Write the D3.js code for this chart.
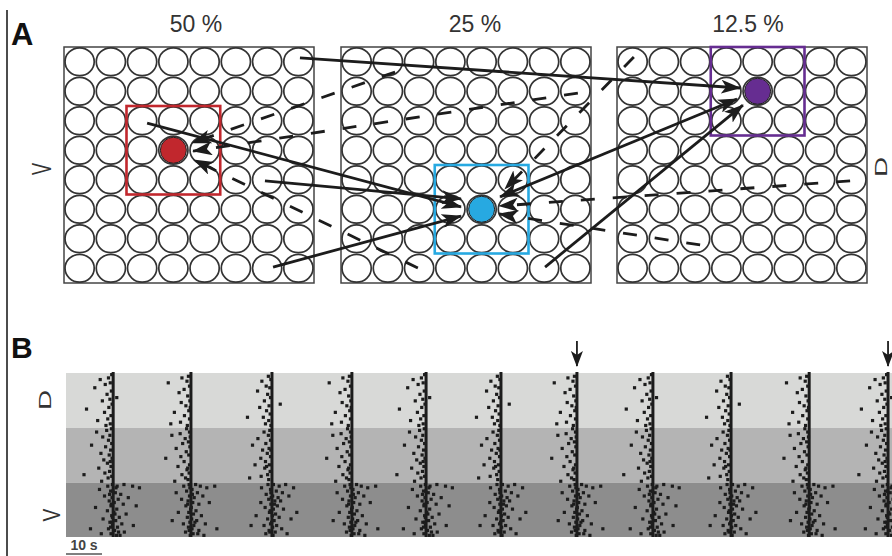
<!DOCTYPE html>
<html>
<head>
<meta charset="utf-8">
<script src="https://cdn.jsdelivr.net/npm/d3@7"></script>
<style>
  body { margin: 0; background: #fff; }
  text { font-family: "Liberation Sans", Arial, sans-serif; }
</style>
</head>
<body>
<script>
// ---- Panel A data ----
const gridTitles = ["50 %", "25 %", "12.5 %"];
const nCells = 8;
// highlighted cell (col,row) per grid and its colour
const hotCells = [[3, 3], [4, 5], [4, 1]];
const hotColors = ["#c1272d", "#27a9e1", "#662d91"];
// arrows: [fromGrid, col, row, toGrid, col, row] in cell units
const solidArrows = [
  [0, 7.55, 0.37, 2, 3.94, 1.39],
  [1, 5.09, 5.08, 2, 3.84, 1.76],
  [1, 6.53, 7.46, 2, 4.03, 1.97],
  [0, 2.66, 2.58, 1, 3.84, 5.42],
  [0, 6.43, 4.54, 1, 3.84, 5.15],
  [0, 6.69, 7.46, 1, 3.84, 5.73]
];
const dashedArrows = [
  [1, 1.73, 0.85, 0, 4.10, 3.25],
  [1, 7.58, 1.56, 0, 4.13, 3.53],
  [1, 2.46, 7.49, 0, 4.16, 3.83],
  [2, 0.54, 0.34, 1, 5.25, 4.81],
  [2, 7.46, 4.54, 1, 5.06, 5.39],
  [2, 2.66, 6.71, 1, 5.06, 5.66]
];

// ---- Panel B data ----
const eventTimes = [13.1, 34.7, 57.2, 79.4, 100.0, 120.8, 141.9, 163.0, 184.7, 206.4, 228.3];
const markedEvents = [141.9, 228.3];
const eventTemplate = [0, 1, 2, 1, 0, 2, 1, 0, 2, 1, 0];
const bandEdges = [0, 0.335, 0.67, 1];
const bandColors = ["#d8d9d7", "#b4b4b4", "#8d8d8d"];
// dot offsets: [seconds from event, depth 0 (D) .. 1 (V)]
const dotsT0 = [
  [-0.4,0.01],[-1.3,0.03],[-3.6,0.04],[-0.8,0.06],[-2.2,0.07],[-5.1,0.09],[-0.5,0.11],[-1.7,0.13],[-0.9,0.16],[-3.0,0.17],
  [-0.3,0.19],[-1.2,0.21],[-7.4,0.22],[-2.4,0.24],[-0.6,0.26],[-1.5,0.28],[-4.3,0.29],[-0.8,0.31],[-2.0,0.32],[1.0,0.15],
  [-0.5,0.34],[-1.8,0.35],[-4.6,0.36],[-0.9,0.38],[-2.9,0.39],[-1.3,0.41],[-0.4,0.43],[-6.0,0.44],[-2.1,0.45],[-0.7,0.47],
  [-3.4,0.49],[-1.1,0.50],[-0.3,0.52],[-2.6,0.53],[-1.6,0.55],[-0.6,0.57],[-4.0,0.58],[-1.0,0.60],[-2.3,0.61],[-0.4,0.63],
  [-1.4,0.64],[-3.2,0.66],[-8.1,0.62],[-0.8,0.54],
  [-0.2,0.68],[-1.5,0.69],[1.1,0.69],[3.0,0.68],[5.4,0.69],[7.3,0.70],[-3.8,0.71],[-0.7,0.72],[0.6,0.73],[2.1,0.74],
  [-2.4,0.75],[-0.3,0.76],[1.4,0.77],[4.2,0.76],[-1.1,0.78],[0.3,0.79],[2.8,0.80],[-0.6,0.81],[-4.9,0.82],[1.0,0.83],
  [-1.6,0.84],[0.2,0.85],[3.6,0.86],[-0.4,0.87],[1.7,0.88],[-2.8,0.89],[0.7,0.90],[-0.9,0.91],[2.4,0.92],[-0.2,0.93],
  [5.6,0.93],[1.2,0.94],[-1.3,0.95],[0.4,0.96],[3.1,0.97],[-0.6,0.98],[1.9,0.99],[-3.3,0.98],[0.9,0.99],[-0.1,0.72],
  [-0.5,0.80],[-0.2,0.88],[-0.7,0.94],[0.5,0.86],[6.4,0.81],[-6.3,0.95],[-1.0,0.74],[0.8,0.70],[-0.4,0.91],[1.5,0.97]
];
const dotsT1 = [
  [-0.7,0.02],[-2.5,0.03],[-1.1,0.05],[-6.3,0.06],[-0.4,0.08],[-1.9,0.10],[-3.3,0.12],[-0.9,0.14],[-0.3,0.17],[-2.7,0.18],
  [-1.4,0.20],[-0.6,0.23],[-4.6,0.24],[-1.8,0.26],[-0.4,0.28],[-2.9,0.30],[-1.0,0.32],[-5.6,0.31],[-0.2,0.21],
  [-1.2,0.34],[-0.4,0.36],[-3.0,0.37],[-5.3,0.38],[-1.6,0.40],[-0.7,0.42],[-2.3,0.43],[-0.3,0.45],[-4.1,0.46],[-1.3,0.48],
  [-0.6,0.50],[-2.8,0.51],[-7.0,0.52],[-1.9,0.54],[-0.4,0.56],[-3.6,0.57],[-1.1,0.59],[-0.5,0.61],[-2.5,0.62],[-1.5,0.64],
  [-0.8,0.65],[-4.5,0.66],[-0.2,0.39],[-0.9,0.58],
  [-0.5,0.68],[1.3,0.68],[-2.0,0.69],[2.6,0.69],[4.4,0.70],[6.6,0.69],[0.3,0.71],[-1.2,0.72],[-4.1,0.73],[1.8,0.73],
  [-0.4,0.75],[0.9,0.76],[3.3,0.75],[-2.6,0.77],[-0.8,0.78],[0.5,0.79],[2.2,0.80],[5.1,0.79],[-1.4,0.81],[0.1,0.82],
  [1.4,0.84],[-0.6,0.85],[-3.5,0.85],[0.7,0.86],[2.9,0.87],[-1.0,0.88],[0.2,0.89],[1.6,0.90],[-0.3,0.91],[-2.1,0.92],
  [0.8,0.93],[4.0,0.92],[-0.7,0.94],[0.3,0.95],[2.2,0.96],[-1.5,0.97],[0.6,0.98],[-0.2,0.99],[3.6,0.99],[-5.2,0.90],
  [-0.3,0.70],[-0.1,0.83],[-0.5,0.96],[1.1,0.91],[7.2,0.95],[-0.9,0.80],[0.4,0.74],[1.9,0.98]
];
const dotsT2 = [
  [-1.0,0.02],[-0.3,0.04],[-2.8,0.05],[-1.6,0.08],[-0.6,0.09],[-4.0,0.11],[-1.2,0.13],[-0.4,0.15],[-2.1,0.17],[-0.8,0.20],
  [-3.4,0.21],[-1.5,0.23],[-0.5,0.25],[-2.4,0.27],[-6.8,0.27],[-0.9,0.29],[-1.8,0.31],[-0.3,0.32],[2.3,0.19],
  [-0.6,0.35],[-2.2,0.36],[-1.0,0.38],[-3.9,0.40],[-0.4,0.41],[-1.7,0.43],[-5.4,0.44],[-0.8,0.46],[-2.6,0.47],[-1.3,0.49],
  [-0.4,0.51],[-3.1,0.52],[-1.8,0.54],[-0.7,0.56],[-4.7,0.56],[-2.0,0.58],[-0.5,0.60],[-1.2,0.62],[-3.0,0.63],[-0.9,0.65],
  [-6.2,0.64],[-0.3,0.47],[-1.5,0.57],
  [0.4,0.68],[-1.1,0.68],[2.0,0.69],[3.8,0.68],[6.0,0.70],[-2.9,0.70],[-0.4,0.71],[1.2,0.72],[2.9,0.73],[-1.6,0.74],
  [0.2,0.75],[4.7,0.75],[-0.9,0.77],[0.8,0.78],[2.4,0.78],[-3.1,0.79],[-0.3,0.80],[1.5,0.81],[-1.9,0.82],[0.4,0.83],
  [3.2,0.83],[-0.7,0.85],[1.0,0.86],[-4.4,0.87],[0.1,0.87],[2.0,0.88],[-1.2,0.89],[0.6,0.90],[5.3,0.89],[-0.4,0.92],
  [1.3,0.93],[-2.2,0.93],[0.2,0.94],[2.7,0.95],[-0.8,0.96],[0.9,0.97],[-1.7,0.98],[0.3,0.99],[4.2,0.98],[-0.2,0.76],
  [-0.5,0.84],[-0.1,0.91],[-0.6,0.97],[0.7,0.80],[6.9,0.85],[-5.8,0.93],[1.7,0.76],[-0.3,0.73]
];
const dotTemplates = [dotsT0, dotsT1, dotsT2];

// ---- SVG ----
const W = 892, H = 556;
const svg = d3.select("body").append("svg")
  .attr("width", W)
  .attr("height", H);

const ink = "#1c1c1c";

// arrow head markers (big for panel A, small for panel B)
const defs = svg.append("defs");
defs.append("marker")
  .attr("id", "head")
  .attr("viewBox", "0 0 20 14")
  .attr("refX", 19)
  .attr("refY", 7)
  .attr("markerWidth", 20)
  .attr("markerHeight", 14)
  .attr("markerUnits", "userSpaceOnUse")
  .attr("orient", "auto")
  .append("path")
  .attr("d", "M0,0 L20,7 L0,14 L5,7 Z")
  .attr("fill", ink);
defs.append("marker")
  .attr("id", "headSmall")
  .attr("viewBox", "0 0 16 12")
  .attr("refX", 15)
  .attr("refY", 6)
  .attr("markerWidth", 16)
  .attr("markerHeight", 12)
  .attr("markerUnits", "userSpaceOnUse")
  .attr("orient", "auto")
  .append("path")
  .attr("d", "M0,0 L16,6 L0,12 L4,6 Z")
  .attr("fill", ink);

// left rule
svg.append("line")
  .attr("x1", 7).attr("x2", 7)
  .attr("y1", 10).attr("y2", H)
  .attr("stroke", "#111")
  .attr("stroke-width", 1.5);

// panel letters
svg.append("text").attr("x", 11).attr("y", 45)
  .style("font-size", "31px").style("font-weight", "bold").attr("fill", "#111").text("A");
svg.append("text").attr("x", 11).attr("y", 358)
  .style("font-size", "30px").style("font-weight", "bold").attr("fill", "#111").text("B");

// ---- Panel A ----
const gridLeft = [64, 341, 617];
const gridW = 250, gridTop = 47, gridH = 236;
const gx = gridLeft.map(l => d3.scaleLinear().domain([0, nCells]).range([l, l + gridW]));
const gy = d3.scaleLinear().domain([0, nCells]).range([gridTop, gridTop + gridH]);

const cells = d3.range(nCells * nCells).map(i => ({ col: i % nCells, row: Math.floor(i / nCells) }));
const titleX = [196, 475, 748];

gridTitles.forEach((title, g) => {
  const grid = svg.append("g");

  grid.append("text")
    .attr("x", titleX[g])
    .attr("y", 32)
    .attr("text-anchor", "middle")
    .style("font-size", "23px")
    .attr("fill", "#333")
    .text(title);

  grid.append("rect")
    .attr("x", gx[g](0))
    .attr("y", gy(0))
    .attr("width", gx[g](nCells) - gx[g](0))
    .attr("height", gy(nCells) - gy(0))
    .attr("fill", "none")
    .attr("stroke", "#444")
    .attr("stroke-width", 1.5);

  grid.selectAll("ellipse")
    .data(cells)
    .enter()
    .append("ellipse")
    .attr("cx", d => gx[g](d.col + 0.5))
    .attr("cy", d => gy(d.row + 0.5))
    .attr("rx", 14.6)
    .attr("ry", 13.9)
    .attr("fill", "none")
    .attr("stroke", "#333")
    .attr("stroke-width", 1.7);

  // 3x3 highlight box and the centre cell
  const [c, r] = hotCells[g];
  grid.append("rect")
    .attr("x", gx[g](c - 1))
    .attr("y", gy(r - 1))
    .attr("width", gx[g](c + 2) - gx[g](c - 1))
    .attr("height", gy(r + 2) - gy(r - 1))
    .attr("fill", "none")
    .attr("stroke", hotColors[g])
    .attr("stroke-width", 2.6);

  grid.append("circle")
    .attr("cx", gx[g](c + 0.5))
    .attr("cy", gy(r + 0.5))
    .attr("r", 13)
    .attr("fill", hotColors[g])
    .attr("stroke", "#222")
    .attr("stroke-width", 1);
});

// V / D orientation labels
svg.append("text")
  .attr("transform", "translate(51,169) rotate(-90) scale(0.65,1)")
  .attr("text-anchor", "middle")
  .style("font-size", "28px")
  .attr("fill", "#333")
  .text("V");
svg.append("text")
  .attr("transform", "translate(887,167) rotate(-90) scale(1,0.6)")
  .attr("text-anchor", "middle")
  .style("font-size", "28px")
  .attr("fill", "#333")
  .text("D");

function drawArrows(list, dashed) {
  svg.selectAll(null)
    .data(list)
    .enter()
    .append("line")
    .attr("x1", d => gx[d[0]](d[1]))
    .attr("y1", d => gy(d[2]))
    .attr("x2", d => gx[d[3]](d[4]))
    .attr("y2", d => gy(d[5]))
    .attr("stroke", ink)
    .attr("stroke-width", 2.8)
    .attr("stroke-dasharray", dashed ? "14,18" : null)
    .attr("marker-end", "url(#head)");
}
drawArrows(dashedArrows, true);
drawArrows(solidArrows, false);
// the blue-to-purple arrow also carries a head at its start
svg.append("line")
  .attr("x1", gx[1](5.09) + 14).attr("y1", gy(5.08) - 6)
  .attr("x2", gx[1](5.09)).attr("y2", gy(5.08))
  .attr("stroke", "none")
  .attr("marker-end", "url(#head)");

// ---- Panel B ----
const x = d3.scaleLinear().domain([0, 229.4]).range([66, W]);
const y = d3.scaleLinear().domain([0, 1]).range([373, 537]);

svg.append("clipPath").attr("id", "rasterClip")
  .append("rect")
  .attr("x", x(0)).attr("y", y(0) - 2)
  .attr("width", W - x(0)).attr("height", y(1) - y(0) + 3);

const raster = svg.append("g").attr("clip-path", "url(#rasterClip)");

raster.selectAll("rect.band")
  .data(bandColors)
  .enter()
  .append("rect")
  .attr("class", "band")
  .attr("x", x(0))
  .attr("y", (d, i) => y(bandEdges[i]))
  .attr("width", W - x(0))
  .attr("height", (d, i) => y(bandEdges[i + 1]) - y(bandEdges[i]))
  .attr("fill", d => d);

const dots = [];
eventTimes.forEach((t, i) => {
  dotTemplates[eventTemplate[i]].forEach(p => dots.push({ t: t + p[0], depth: p[1] }));
});

raster.selectAll("rect.dot")
  .data(dots)
  .enter()
  .append("rect")
  .attr("class", "dot")
  .attr("x", d => x(d.t) - 1.6)
  .attr("y", d => y(d.depth) - 1.6)
  .attr("width", 3.2)
  .attr("height", 3.2)
  .attr("fill", ink);

raster.selectAll("line.event")
  .data(eventTimes)
  .enter()
  .append("line")
  .attr("class", "event")
  .attr("x1", d => x(d)).attr("x2", d => x(d))
  .attr("y1", y(0) - 1).attr("y2", y(1))
  .attr("stroke", ink)
  .attr("stroke-width", 3);

// arrows marking selected events
svg.selectAll("line.mark")
  .data(markedEvents)
  .enter()
  .append("line")
  .attr("class", "mark")
  .attr("x1", d => x(d)).attr("x2", d => x(d))
  .attr("y1", 341).attr("y2", 366)
  .attr("stroke", ink)
  .attr("stroke-width", 1.8)
  .attr("marker-end", "url(#headSmall)");

// depth labels
svg.append("text")
  .attr("transform", "translate(51,400) rotate(-90) scale(1,0.6)")
  .attr("text-anchor", "middle")
  .style("font-size", "28px")
  .attr("fill", "#333")
  .text("D");
svg.append("text")
  .attr("transform", "translate(60,515) rotate(-90) scale(0.8,1)")
  .attr("text-anchor", "middle")
  .style("font-size", "24px")
  .attr("fill", "#333")
  .text("V");

// 10 s scale bar
svg.append("line")
  .attr("x1", x(0)).attr("x2", x(10))
  .attr("y1", 554).attr("y2", 554)
  .attr("stroke", "#555")
  .attr("stroke-width", 1.5);
svg.append("text")
  .attr("x", (x(0) + x(10)) / 2)
  .attr("y", 550)
  .attr("text-anchor", "middle")
  .style("font-size", "14px")
  .style("font-weight", "bold")
  .attr("fill", "#444")
  .text("10 s");
</script>
</body>
</html>
